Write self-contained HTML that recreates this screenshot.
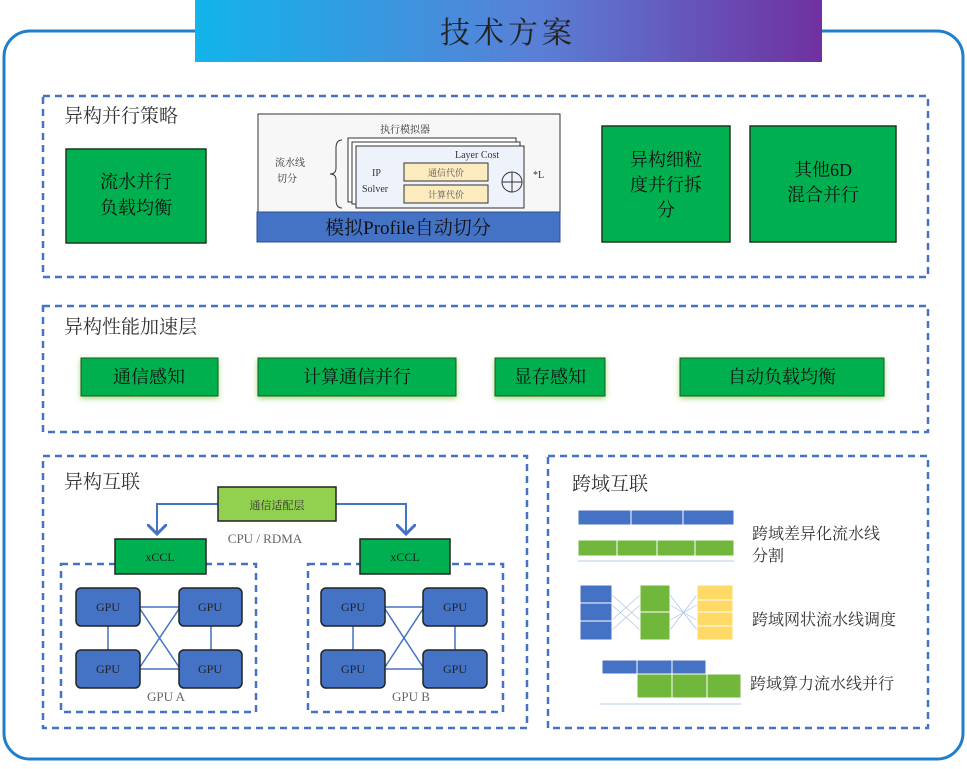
<!DOCTYPE html>
<html><head><meta charset="utf-8"><style>
html,body{margin:0;padding:0;background:#fff;}
svg text{font-family:"Liberation Serif","Noto Serif CJK SC","Noto Sans CJK SC",serif;}
</style></head><body>
<svg width="967" height="764" viewBox="0 0 967 764" xmlns="http://www.w3.org/2000/svg">
<defs>
<linearGradient id="tg" x1="0" x2="1" y1="0" y2="0">
<stop offset="0" stop-color="#12b4ea"/><stop offset="0.55" stop-color="#5a7fd6"/><stop offset="1" stop-color="#7030a0"/></linearGradient>
<filter id="sh" x="-20%" y="-30%" width="140%" height="160%"><feDropShadow dx="0" dy="2" stdDeviation="3" flood-color="#7ac943" flood-opacity="0.7"/></filter>
<marker id="ar" markerWidth="10" markerHeight="10" refX="5" refY="5" orient="auto"><path d="M0,0 L5,5 L0,10" fill="none" stroke="#4472c4" stroke-width="1.5"/></marker>
</defs>
<rect x="4" y="31" width="959" height="728" rx="26" fill="#fff" stroke="#1f7fcf" stroke-width="3"/>
<rect x="195" y="0" width="627" height="62" fill="url(#tg)"/>
<text x="508" y="43" font-size="30" text-anchor="middle" fill="#222" letter-spacing="4">技术方案</text>

<g fill="none" stroke="#4472c4" stroke-width="2.5" stroke-dasharray="7,5">
<rect x="43" y="96" width="885" height="181"/>
<rect x="43" y="306" width="885" height="126"/>
<rect x="43" y="456" width="484" height="272"/>
<rect x="548" y="456" width="380" height="272"/>
<rect x="61" y="564" width="195" height="148"/>
<rect x="308" y="564" width="195" height="148"/>
</g>

<g font-size="19" fill="#333">
<text x="64" y="122">异构并行策略</text>
<text x="64" y="333">异构性能加速层</text>
<text x="64" y="488">异构互联</text>
<text x="572" y="490">跨域互联</text>
</g>

<g stroke="#1a3a1a" stroke-width="1.5" fill="#00b050">
<rect x="66" y="149" width="140" height="94"/>
<rect x="602" y="126" width="128" height="116"/>
<rect x="750" y="126" width="146" height="116"/>
</g>
<g font-size="18" fill="#111" text-anchor="middle">
<text x="136" y="188">流水并行</text><text x="136" y="214">负载均衡</text>
<text x="666" y="166">异构细粒</text><text x="666" y="191">度并行拆</text><text x="666" y="216">分</text>
<text x="823" y="176">其他6D</text><text x="823" y="201">混合并行</text>
</g>

<rect x="258" y="114" width="302" height="100" fill="#f7f7f7" stroke="#333" stroke-width="1"/>
<rect x="257" y="212" width="303" height="30" fill="#4472c4" stroke="#2f4f8f"/>
<text x="408" y="234" font-size="19" text-anchor="middle" fill="#111">模拟Profile自动切分</text>
<text x="405" y="133" font-size="10" fill="#333" text-anchor="middle">执行模拟器</text>
<text x="275" y="166" font-size="10" fill="#333">流水线</text><text x="277" y="182" font-size="10" fill="#333">切分</text>
<path d="M342,140 q-6,0 -6,8 v20 q0,6 -6,6 q6,0 6,6 v20 q0,8 6,8" fill="none" stroke="#333"/>
<rect x="348" y="138" width="168" height="64" fill="#fff" stroke="#333"/>
<rect x="352" y="142" width="168" height="62" fill="#fff" stroke="#333"/>
<rect x="356" y="146" width="168" height="62" fill="#eef2fb" stroke="#333"/>
<text x="455" y="158" font-size="10" fill="#333">Layer Cost</text>
<text x="372" y="176" font-size="10" fill="#333">IP</text><text x="362" y="192" font-size="10" fill="#333">Solver</text>
<rect x="404" y="163" width="84" height="18" fill="#fdebc0" stroke="#333"/>
<rect x="404" y="185" width="84" height="18" fill="#fdebc0" stroke="#333"/>
<text x="446" y="176" font-size="9" fill="#555" text-anchor="middle">通信代价</text>
<text x="446" y="198" font-size="9" fill="#555" text-anchor="middle">计算代价</text>
<circle cx="512" cy="182" r="10" fill="none" stroke="#333"/><path d="M502,182h20M512,172v20" stroke="#333"/>
<text x="533" y="178" font-size="10" fill="#333">*L</text>

<g filter="url(#sh)" fill="#00b050" stroke="#1a5a1a" stroke-width="1">
<rect x="81" y="358" width="137" height="38"/>
<rect x="258" y="358" width="198" height="38"/>
<rect x="495" y="358" width="110" height="38"/>
<rect x="680" y="358" width="204" height="38"/>
</g>
<g font-size="18" fill="#111" text-anchor="middle">
<text x="149" y="383">通信感知</text><text x="357" y="383">计算通信并行</text>
<text x="550" y="383">显存感知</text><text x="782" y="383">自动负载均衡</text>
</g>

<path d="M218,504 H157 V534" fill="none" stroke="#4472c4" stroke-width="2" marker-end="url(#ar)"/>
<path d="M336,504 H406 V534" fill="none" stroke="#4472c4" stroke-width="2" marker-end="url(#ar)"/>
<rect x="218" y="487" width="118" height="34" fill="#92d050" stroke="#222" stroke-width="1.5"/>
<text x="277" y="509" font-size="11" text-anchor="middle" fill="#333">通信适配层</text>
<text x="265" y="543" font-size="13" text-anchor="middle" fill="#666">CPU / RDMA</text>
<rect x="115" y="539" width="91" height="35" fill="#00b050" stroke="#222" stroke-width="1.5"/>
<rect x="360" y="539" width="90" height="35" fill="#00b050" stroke="#222" stroke-width="1.5"/>
<text x="160" y="561" font-size="12" text-anchor="middle" fill="#222">xCCL</text>
<text x="405" y="561" font-size="12" text-anchor="middle" fill="#222">xCCL</text>

<g stroke="#4472c4" stroke-width="1.5" fill="none">
<path d="M140,607 H179 M140,669 H179 M140,609 L179,667 M140,667 L179,609 M108,626 V650 M211,626 V650"/>
<path d="M385,607 H423 M385,669 H423 M385,609 L423,667 M385,667 L423,609 M353,626 V650 M455,626 V650"/>
</g>
<g fill="#4472c4" stroke="#222" stroke-width="1.5">
<rect x="76" y="588" width="64" height="38" rx="5"/><rect x="179" y="588" width="63" height="38" rx="5"/>
<rect x="76" y="650" width="64" height="38" rx="5"/><rect x="179" y="650" width="63" height="38" rx="5"/>
<rect x="321" y="588" width="64" height="38" rx="5"/><rect x="423" y="588" width="64" height="38" rx="5"/>
<rect x="321" y="650" width="64" height="38" rx="5"/><rect x="423" y="650" width="64" height="38" rx="5"/>
</g>
<g font-size="12" text-anchor="middle" fill="#222">
<text x="108" y="611">GPU</text><text x="210" y="611">GPU</text><text x="108" y="673">GPU</text><text x="210" y="673">GPU</text>
<text x="353" y="611">GPU</text><text x="455" y="611">GPU</text><text x="353" y="673">GPU</text><text x="455" y="673">GPU</text>
</g>
<text x="166" y="701" font-size="13" text-anchor="middle" fill="#666">GPU A</text>
<text x="411" y="701" font-size="13" text-anchor="middle" fill="#666">GPU B</text>

<g stroke="#fff" stroke-width="1">
<rect x="578" y="510" width="156" height="15" fill="#4472c4"/>
<path d="M631,510v15M683,510v15"/>
<rect x="578" y="540" width="156" height="16" fill="#70b73c"/>
<path d="M617,540v16M657,540v16M695,540v16"/>
</g>
<line x1="578" y1="561" x2="734" y2="561" stroke="#b8cbe8"/>
<g stroke="#a9c1e8" stroke-width="0.7">
<path d="M612,595 L640,620 M612,620 L640,595 M612,630 L640,605 M612,605 L640,630 M670,595 L697,630 M670,630 L697,595 M670,605 L697,620 M670,620 L697,605"/>
</g>
<g stroke="#fff" stroke-width="1">
<rect x="580" y="585" width="32" height="55" fill="#4472c4"/><path d="M580,603h32M580,621h32"/>
<rect x="640" y="585" width="30" height="55" fill="#70b73c"/><path d="M640,612h30"/>
<rect x="697" y="585" width="36" height="55" fill="#ffd966"/><path d="M697,600h36M697,612h36M697,626h36"/>
<rect x="602" y="660" width="104" height="14" fill="#4472c4"/><path d="M637,660v14M672,660v14"/>
<rect x="637" y="674" width="104" height="24" fill="#70b73c"/><path d="M672,674v24M707,674v24"/>
</g>
<line x1="600" y1="704" x2="741" y2="704" stroke="#b8cbe8"/>
<g font-size="16" fill="#333">
<text x="752" y="539">跨域差异化流水线</text><text x="752" y="561">分割</text>
<text x="752" y="625">跨域网状流水线调度</text>
<text x="750" y="689">跨域算力流水线并行</text>
</g>
</svg>
</body></html>
